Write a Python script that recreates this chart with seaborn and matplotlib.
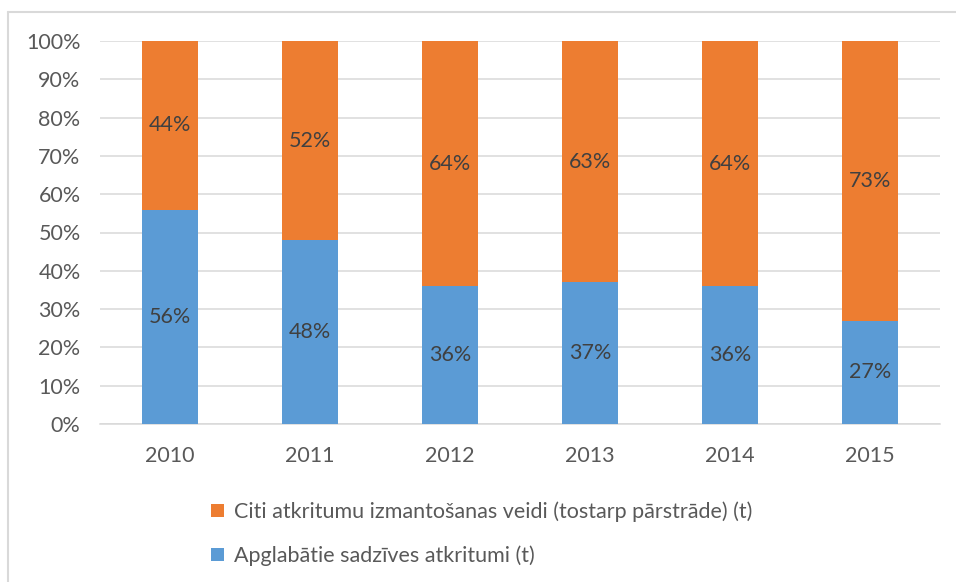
import matplotlib
matplotlib.use("Agg")
import matplotlib.pyplot as plt
from matplotlib.patches import Patch
from matplotlib.lines import Line2D
import seaborn as sns
import pandas as pd

years = ["2010", "2011", "2012", "2013", "2014", "2015"]
landfilled = [56, 48, 36, 37, 36, 27]   # Apglabātie sadzīves atkritumi (t), %
other_use = [44, 52, 64, 63, 64, 73]    # Citi atkritumu izmantošanas veidi (t), %
series_names = [
    "Citi atkritumu izmantošanas veidi (tostarp pārstrāde) (t)",
    "Apglabātie sadzīves atkritumi (t)",
]
yticks = [0, 10, 20, 30, 40, 50, 60, 70, 80, 90, 100]

BLUE = "#5B9BD5"
ORANGE = "#ED7D31"
TEXT = "#595959"
GRID = "#D9D9D9"
FS = 15.5

sns.set_theme(style="white")
plt.rcParams["font.family"] = ["Lato", "DejaVu Sans"]

df = pd.DataFrame({"year": years, "landfilled": landfilled, "other": other_use})
df["total"] = df["landfilled"] + df["other"]

fig = plt.figure(figsize=(9.56, 5.82), dpi=100)
ax = fig.add_axes([100 / 956, 1 - 424 / 582, 840 / 956, 383 / 582])

# stacked bars: full-height orange, blue drawn over the lower part
sns.barplot(data=df, x="year", y="total", color=ORANGE, saturation=1,
            width=0.4, linewidth=0, ax=ax, zorder=3)
sns.barplot(data=df, x="year", y="landfilled", color=BLUE, saturation=1,
            width=0.4, linewidth=0, ax=ax, zorder=3)

ax.set_ylim(0, 100)
ax.set_xlim(-0.5, len(years) - 0.5)
ax.set_yticks(yticks)
ax.set_yticklabels([f"{t}%" for t in yticks])
ax.yaxis.grid(True, color=GRID, linewidth=1.1, zorder=0)
ax.set_axisbelow(True)
for s in ["left", "right", "top"]:
    ax.spines[s].set_visible(False)
ax.spines["bottom"].set_color(GRID)
ax.spines["bottom"].set_linewidth(1.1)
ax.tick_params(axis="both", length=0, labelsize=FS, colors=TEXT)
ax.tick_params(axis="y", pad=14)
ax.tick_params(axis="x", pad=16)
ax.set_xlabel("")
ax.set_ylabel("")

for i, (b, o) in enumerate(zip(landfilled, other_use)):
    ax.text(i, b / 2, f"{b}%", ha="center", va="center", fontsize=FS, color="#404040", zorder=4)
    ax.text(i, b + o / 2, f"{o}%", ha="center", va="center", fontsize=FS, color="#404040", zorder=4)

handles = [Patch(facecolor=ORANGE, edgecolor="none"), Patch(facecolor=BLUE, edgecolor="none")]
fig.legend(handles, series_names, loc="upper left", bbox_to_anchor=(192 / 956, 1 - 482 / 582),
           frameon=False, fontsize=FS, labelcolor=TEXT, handlelength=0.6, handleheight=0.6,
           handletextpad=0.45, labelspacing=1.1)

# chart frame
fig.add_artist(Line2D([8 / 956, 8 / 956], [0, 1 - 12 / 582], color=GRID, linewidth=1.5))
fig.add_artist(Line2D([8 / 956, 1], [1 - 12 / 582, 1 - 12 / 582], color=GRID, linewidth=1.5))

fig.savefig("out.png", dpi=100, facecolor="white")
